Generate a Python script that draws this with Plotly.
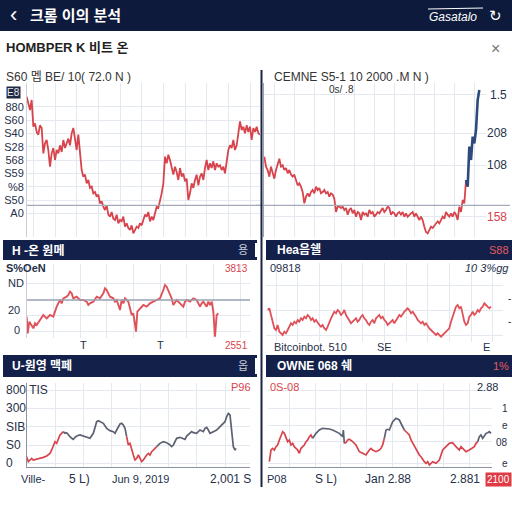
import plotly.graph_objects as go

W = H = 512
NAVY = "#12204a"
RED = "#d8444c"
BLUE = "#2d4a7c"
GRAYLINE = "#5c6272"
GRID = "#e4e8ef"
TXT = "#26304a"
FONT = "Liberation Sans, Noto Sans CJK KR, sans-serif"

# ---------------- data ----------------
# Panel 1 (top-left), one value per step
p1_values = [
    895, 885, 875, 890, 850, 855, 842, 838, 852, 848,
    810, 825, 830, 815, 790, 810, 818, 800, 815, 810,
    822, 812, 830, 818, 825, 832, 822, 840, 848, 830,
    815, 838, 805, 785, 775, 778, 765, 770, 758, 760,
    750, 752, 745, 748, 735, 738, 730, 725, 732, 718,
    715, 722, 712, 710, 718, 705, 710, 708, 715, 700,
    705, 698, 695, 702, 690, 695, 700, 698, 705, 702,
    710, 718, 715, 722, 708, 715, 710, 720, 730, 728,
    738, 750, 765, 805, 795, 808, 800, 790, 778, 790,
    782, 770, 788, 775, 780, 768, 772, 740, 750, 765,
    758, 770, 778, 762, 775, 780, 770, 788, 800, 785,
    795, 788, 798, 785, 795, 790, 792, 785, 790, 780,
    795, 815, 822, 818, 830, 815, 822, 840, 858, 845,
    850, 840, 852, 842, 850, 830, 848, 842, 850, 840,
    838,
]
p1_low_index = 64
p1_low_value = 680
p1_ref_level = 732
p1_tickvals = [880, 860, 840, 820, 800, 780, 760, 740, 720]
p1_ticktext = ["880", "S60", "S40", "S28", "568", "S59", "%8", "S50", "A0"]

# Panel 2 (top-right)
p2_values = [
    155, 140, 135, 125, 140, 130, 122, 135, 145, 152,
    140, 142, 135, 138, 130, 135, 128, 125, 128, 120,
    112, 115, 110, 102, 85, 95, 100, 95, 102, 105,
    100, 110, 105, 108, 100, 102, 105, 100, 102, 95,
    100, 98, 92, 72, 80, 80, 78, 80, 75, 78,
    68, 75, 78, 70, 75, 65, 72, 70, 60, 72,
    68, 70, 65, 75, 70, 72, 65, 68, 72, 70,
    75, 78, 72, 75, 80, 78, 68, 72, 70, 65,
    70, 72, 68, 72, 65, 70, 65, 68, 70, 72,
    65, 70, 65, 60, 65, 60, 50, 42, 40, 45,
    50, 48, 52, 55, 58, 55, 60, 65, 62, 72,
    68, 65, 70, 65, 72, 68, 60, 80, 72, 90,
    85, 120, 110, 170, 150, 185, 175, 195, 240, 255,
]
p2_split = 121  # red before, blue after
p2_ref_level = 82
p2_labels = [(248, "1.5", TXT), (190, "208", TXT), (142, "108", TXT), (65, "158", RED)]

# Panel 3 (middle-left)
p3_t = [80, 83, 88, 95, 100, 105, 110, 120, 130, 140, 150, 160, 165, 170, 180,
        185, 190, 200, 205, 210, 215, 220, 230, 240, 250, 260, 265, 270, 280,
        290, 300, 310, 315, 320, 325, 330, 340, 345, 350, 355, 360, 365, 370,
        375, 385, 390, 395, 400, 405, 408, 412, 420, 430, 440, 450, 460, 470,
        480, 490, 495, 500, 505, 510, 515, 520, 525, 530, 540, 550, 555, 560,
        570, 580, 590, 600, 605, 610, 620, 625, 630, 635, 640, 643, 645, 650, 655]
p3_values = [55, 5, 40, 30, 20, 35, 30, 45, 60, 50, 60, 55, 70, 85, 105,
             95, 110, 115, 120, 130, 125, 110, 115, 105, 105, 100, 90, 95, 100,
             115, 110, 125, 140, 135, 125, 115, 110, 100, 105, 90, 75, 105, 95,
             110, 100, 80, 60, 65, 35, 10, 70, 80, 90, 85, 95, 100, 105,
             110, 135, 150, 145, 135, 120, 110, 90, 100, 105, 95, 85, 100, 105,
             100, 110, 105, 85, 95, 100, 85, 100, 90, 100, 70, 20, -5, 60, 65]
p3_ref_level = 105

# Panel 4 (middle-right)
p4_values = [
    95, 100, 80, 60, 40, 35, 50, 30, 25, 20,
    30, 25, 35, 45, 55, 50, 60, 55, 65, 60,
    70, 65, 75, 70, 80, 75, 65, 70, 60, 65,
    55, 50, 45, 50, 40, 35, 45, 60, 70, 80,
    90, 85, 95, 90, 80, 85, 95, 80, 70, 65,
    55, 60, 65, 70, 60, 65, 75, 80, 70, 65,
    55, 50, 60, 65, 55, 70, 75, 80, 70, 75,
    65, 60, 50, 55, 60, 65, 55, 65, 70, 80,
    75, 85, 90, 95, 100, 95, 85, 90, 80, 75,
    65, 60, 55, 60, 50, 55, 45, 40, 35, 30,
    25, 20, 25, 20, 15, 20, 25, 30, 35, 40,
    60, 75, 90, 105, 110, 100, 105, 80, 60, 50,
    55, 75, 80, 90, 80, 85, 95, 90, 100, 105,
    115, 110, 105, 100, 105,
]

# Panel 5 (bottom-left)
p5_t = [80, 85, 90, 95, 100, 110, 120, 130, 140, 150, 155, 160, 165, 170, 175,
        180, 185, 190, 195, 200, 205, 210, 215, 220, 225, 230, 240, 250, 260,
        270, 280, 285, 290, 295, 300, 310, 320, 325, 330, 340, 345, 350, 355,
        360, 365, 370, 375, 380, 385, 390, 395, 400, 405, 410, 415, 420, 425,
        430, 435, 440, 445, 450, 455, 460, 465, 470, 475, 480, 490, 500, 510,
        515, 520, 525, 530, 540, 550, 555, 560, 570, 575, 580, 590, 600, 610,
        615, 620, 625, 630, 640, 650, 655, 660, 665, 670, 675, 680, 685, 690,
        695, 700, 705, 708]
p5_values = [30, 15, 20, 25, 20, 22, 25, 28, 32, 40, 50, 60, 75, 70, 85,
             95, 100, 105, 100, 102, 95, 90, 85, 82, 88, 92, 95, 92, 88,
             85, 100, 120, 135, 138, 135, 130, 115, 110, 108, 105, 100, 110, 120,
             128, 130, 125, 115, 90, 65, 70, 50, 35, 20, 25, 35, 25, 15,
             20, 30, 35, 40, 35, 45, 50, 55, 60, 65, 70, 75, 72, 65,
             60, 65, 75, 85, 88, 85, 82, 92, 100, 105, 102, 100, 110, 105,
             115, 118, 110, 100, 105, 110, 115, 120, 125, 130, 135, 150, 160, 155,
             110, 60, 50, 55]
p5_segments = [(80, 190, "red"), (190, 380, "gray"), (380, 470, "red"), (470, 708, "gray")]
p5_ylabels = [(230, "800 TIS"), (175, "300"), (120, "SIB"), (65, "S0"), (10, "0")]

# Panel 6 (bottom-right)
p6_t = [40, 42, 45, 50, 55, 60, 65, 70, 75, 80, 85, 90, 95, 100, 105, 110, 115,
        120, 125, 130, 135, 140, 145, 150, 155, 160, 165, 170, 175, 180, 185,
        190, 200, 210, 220, 230, 240, 250, 260, 262, 265, 270, 275, 280, 290,
        295, 300, 305, 310, 320, 330, 340, 345, 350, 360, 370, 375, 380, 385,
        390, 395, 400, 410, 420, 430, 440, 445, 450, 455, 460, 465, 470, 475,
        480, 485, 490, 495, 500, 505, 510, 515, 520, 525, 530, 540, 545, 550,
        555, 560, 570, 580, 590, 595, 600, 605, 610, 615, 620, 625, 630, 640,
        650, 655, 660, 665, 670, 675, 680, 685, 690, 695, 700, 705]
p6_values = [25, 50, 60, 65, 60, 70, 75, 90, 105, 115, 110, 95, 85, 90, 75, 80, 70,
             65, 60, 50, 65, 70, 75, 85, 90, 100, 105, 95, 105, 110, 115,
             120, 125, 125, 123, 120, 115, 110, 100, 120, 80, 82, 90, 92, 85,
             80, 75, 65, 55, 50, 45, 60, 65, 60, 55, 60, 65, 75, 95,
             120, 122, 120, 145, 155, 150, 130, 120, 115, 110, 105, 90, 80, 70,
             60, 50, 45, 40, 30, 25, 20, 25, 15, 20, 25, 20, 25, 30,
             45, 60, 70, 80, 82, 75, 70, 65, 60, 70, 65, 60, 55, 60,
             65, 70, 80, 85, 100, 105, 95, 102, 110, 112, 115, 110]
p6_segments = [(40, 170, "red"), (170, 265, "gray"), (265, 385, "red"),
               (385, 445, "gray"), (445, 665, "red"), (665, 705, "gray")]

SEG_COLORS = {"red": RED, "gray": GRAYLINE}

# ---------------- helpers ----------------
def xd(px0, px1):
    return [px0 / W, px1 / W]


def yd(py_top, py_bot):
    return [1 - py_bot / H, 1 - py_top / H]


def txt(s, px, py, size=11, color=TXT, anchor="left", bold=False, **kw):
    if bold:
        s = "<b>" + s + "</b>"
    return dict(text=s, x=px / W, y=1 - py / H, xref="paper", yref="paper",
                xanchor=anchor, yanchor="middle", showarrow=False,
                font=dict(size=size, color=color, family=FONT), **kw)


def rect(px0, py0, px1, py1, color):
    return dict(type="rect", xref="paper", yref="paper", x0=px0 / W, x1=px1 / W,
                y0=1 - py1 / H, y1=1 - py0 / H, fillcolor=color, line=dict(width=0),
                layer="above")


def pline(px0, py0, px1, py1, color, width=1):
    return dict(type="line", xref="paper", yref="paper", x0=px0 / W, x1=px1 / W,
                y0=1 - py0 / H, y1=1 - py1 / H, line=dict(color=color, width=width))


def axis(domain, rng, **kw):
    d = dict(domain=domain, range=rng, showgrid=True, gridcolor=GRID, gridwidth=1,
             zeroline=False, showticklabels=False, ticks="", showline=False,
             fixedrange=True)
    d.update(kw)
    return d


def line_trace(x, y, xa, ya, color, width=1.6):
    return go.Scatter(x=x, y=y, xaxis=xa, yaxis=ya, mode="lines",
                      line=dict(color=color, width=width), hoverinfo="skip",
                      showlegend=False)


fig = go.Figure()

# Panel 1
p1_x = list(range(len(p1_values)))
fig.add_trace(line_trace(p1_x, p1_values, "x", "y", RED, 1.8))
fig.add_trace(go.Scatter(x=[p1_low_index], y=[p1_low_value], xaxis="x", yaxis="y",
                         mode="markers", cliponaxis=False,
                         marker=dict(size=13, color="white", line=dict(color="#1b2444", width=1.5)),
                         hoverinfo="skip", showlegend=False))

# Panel 2
p2_x = list(range(len(p2_values)))
fig.add_trace(line_trace(p2_x[:p2_split + 1], p2_values[:p2_split + 1], "x2", "y2", RED, 1.8))
fig.add_trace(line_trace(p2_x[p2_split:], p2_values[p2_split:], "x2", "y2", BLUE, 2.6))

# Panel 3
fig.add_trace(line_trace(p3_t, p3_values, "x3", "y3", "#e0525a", 1.9))

# Panel 4
p4_x = list(range(len(p4_values)))
fig.add_trace(line_trace(p4_x, p4_values, "x4", "y4", "#e0525a", 1.8))


def add_segments(t, v, segs, xa, ya):
    for a, b, c in segs:
        xs = [tt for tt in t if a <= tt <= b]
        ys = [vv for tt, vv in zip(t, v) if a <= tt <= b]
        fig.add_trace(line_trace(xs, ys, xa, ya, SEG_COLORS[c], 1.7))


add_segments(p5_t, p5_values, p5_segments, "x5", "y5")
add_segments(p6_t, p6_values, p6_segments, "x6", "y6")

# ---------------- layout ----------------
layout = dict(
    width=W, height=H, margin=dict(l=0, r=0, t=0, b=0),
    paper_bgcolor="white", plot_bgcolor="white", showlegend=False,
    font=dict(family=FONT, color=TXT),
)
layout["xaxis"] = axis(xd(27, 260), [0.2, 140], anchor="y", tick0=4, dtick=13)
layout["yaxis"] = axis(yd(83, 237), [684.5, 915.5], anchor="x", tickvals=p1_tickvals,
                       ticktext=p1_ticktext, showticklabels=True,
                       tickfont=dict(size=11, color=TXT, family=FONT),
                       showline=True, linecolor="#c9ced8", linewidth=1)
layout["xaxis2"] = axis(xd(264, 486), [-0.2, 133], anchor="y2", tick0=6, dtick=12)
layout["yaxis2"] = axis(yd(83, 237), [34.5, 265.5], anchor="x2",
                        tickvals=[v for v, _, _ in p2_labels],
                        showline=True, linecolor="#9aa2b1", linewidth=1)
layout["xaxis3"] = axis(xd(27, 250), [81, 750], anchor="y3", tick0=0, dtick=80)
layout["yaxis3"] = axis(yd(264, 338), [-9, 213], anchor="x3", tickvals=[10, 60, 155],
                        showline=True, linecolor="#c9ced8", linewidth=1)
layout["xaxis4"] = axis(xd(266, 503), [-1, 141.2], anchor="y4", tick0=5, dtick=13)
layout["yaxis4"] = axis(yd(263, 342), [-1, 236], anchor="x4", tickvals=[20, 95, 170])
layout["xaxis5"] = axis(xd(27, 250), [81, 750], anchor="y5", tick0=165, dtick=85,
                        showline=True, linecolor="#8c93a2", linewidth=1.2)
layout["yaxis5"] = axis(yd(383, 467), [-1, 251], anchor="x5",
                        tickvals=[v for v, _ in p5_ylabels],
                        showline=True, linecolor="#8c93a2", linewidth=1.2)
layout["xaxis6"] = axis(xd(268, 492), [36, 708], anchor="y6", tick0=100, dtick=77,
                        showline=True, linecolor="#8c93a2", linewidth=1.2)
layout["yaxis6"] = axis(yd(383, 467), [9, 261], anchor="x6", tickvals=[20, 85, 135, 185, 240])

shapes = []
annots = []

# header
shapes.append(rect(0, 0, 512, 31, "#0e1a3c"))
annots.append(txt("‹", 8, 14, size=22, color="white"))
annots.append(txt("크롬 이의 분석", 28, 15, size=15, color="white", bold=True))
annots.append(txt("<i>Gasatalo</i>", 427, 17, size=12, color="white"))
shapes.append(pline(428, 9, 483, 8, "white", 1))
annots.append(txt("↻", 487, 15, size=15, color="white"))
# subtitle
annots.append(txt("HOMBPER K 비트 온", 4, 47, size=13, color="#222", bold=True))
annots.append(txt("×", 495, 48, size=16, color="#777", anchor="center"))

# panel 1 labels
annots.append(txt("S60 멥 BE/ 10( 72.0 N )", 4, 77, size=12, color="#333"))
annots.append(txt("E8", 6, 92, size=10, color="#e8ebf2", bgcolor="#1f2a44", borderpad=0))
shapes.append(dict(type="line", xref="x", yref="y", x0=0.2, x1=140,
                   y0=p1_ref_level, y1=p1_ref_level, line=dict(color="#a3abb9", width=1.2)))

# panel 2 labels
annots.append(txt("CEMNE S5-1 10 2000 .M N )", 272, 77, size=12, color="#333"))
annots.append(txt("0s/ .8", 327, 89, size=10, color="#333"))
for v, s, c in p2_labels:
    annots.append(dict(text=s, x=1.0, xref="paper", y=v, yref="y2", xanchor="right",
                       yanchor="middle", showarrow=False,
                       font=dict(size=12, color=c, family=FONT), xshift=-3))
shapes.append(dict(type="line", xref="paper", yref="y2", x0=256 / W, x1=510 / W,
                   y0=p2_ref_level, y1=p2_ref_level, line=dict(color="#a3abb9", width=1.2)))

# vertical divider
shapes.append(pline(261.5, 70, 261.5, 487, "#1b2444", 2))

# navy bars
for x0, y0, x1, y1 in [(3, 240, 257, 260), (266, 240, 512, 260),
                       (3, 355, 257, 377), (266, 355, 512, 377)]:
    shapes.append(rect(x0, y0, x1, y1, NAVY))
shapes.append(rect(255, 243, 259, 257, "white"))
shapes.append(rect(255, 358, 259, 374, "white"))
annots.append(txt("H -온 원메", 10, 250, size=12, color="white", bold=True))
annots.append(txt("용", 250, 250, size=11, color="#c9ced9", anchor="right"))
annots.append(txt("Hea음쉘", 275, 250, size=12, color="white", bold=True))
annots.append(txt("S88", 511, 250, size=11, color="#e55a62", anchor="right"))
annots.append(txt("U-원영 맥페", 10, 366, size=12, color="white", bold=True))
annots.append(txt("옵", 250, 366, size=11, color="#c9ced9", anchor="right"))
annots.append(txt("OWNE 068 쉐", 275, 366, size=12, color="white", bold=True))
annots.append(txt("1%", 511, 366, size=11, color="#e55a62", anchor="right"))

# panel 3 labels
shapes.append(dict(type="line", xref="paper", yref="y3", x0=27 / W, x1=250 / W,
                   y0=p3_ref_level, y1=p3_ref_level, line=dict(color="#9aa2b1", width=1.3)))
annots.append(txt("S%OeN", 4, 268, size=11, color=TXT, bold=True))
annots.append(txt("ND", 6, 283, size=11, color=TXT))
annots.append(txt("20", 6, 310, size=11, color=TXT))
annots.append(txt("0", 12, 330, size=11, color=TXT))
annots.append(txt("3813", 250, 268, size=10, color=RED, anchor="right"))
annots.append(txt("2551", 250, 345, size=10, color=RED, anchor="right"))
annots.append(txt("T", 83, 345, size=11, color=TXT, anchor="center"))
annots.append(txt("T", 160, 345, size=11, color=TXT, anchor="center"))

# panel 4 labels
annots.append(txt("09818", 268, 268, size=11, color=TXT))
annots.append(txt("<i>10 3%gg</i>", 511, 268, size=11, color=TXT, anchor="right"))
annots.append(txt("-", 506, 298, size=10, color=TXT))
annots.append(txt("-", 506, 321, size=10, color=TXT))
annots.append(txt("Bitcoinbot. 510", 272, 347, size=11, color=TXT))
annots.append(txt("SE", 384, 347, size=11, color=TXT, anchor="center"))
annots.append(txt("E", 486, 347, size=11, color=TXT, anchor="center"))

# panel 5 labels
annots.append(txt("P96", 253, 387, size=11, color=RED, anchor="right"))
for v, s in p5_ylabels:
    annots.append(dict(text=s, x=4 / W, xref="paper", y=v, yref="y5", xanchor="left",
                       yanchor="middle", showarrow=False,
                       font=dict(size=12, color=TXT, family=FONT)))
annots.append(txt("Ville-", 33, 479, size=11, color=TXT, anchor="center"))
annots.append(txt("5 L)", 79, 479, size=12, color=TXT, anchor="center"))
annots.append(txt("Jun 9, 2019", 141, 479, size=11, color=TXT, anchor="center"))
annots.append(txt("2,001 S", 230, 479, size=12, color=TXT, anchor="center"))

# panel 6 labels
annots.append(txt("0S-08", 268, 387, size=11, color=RED))
annots.append(txt("2.88", 500, 387, size=11, color=TXT, anchor="right"))
for py, s in [(408, "1"), (425, "e"), (442, "08"), (463, "e")]:
    annots.append(txt(s, 510, py, size=10, color=TXT, anchor="right"))
annots.append(txt("P08", 277, 479, size=11, color=TXT, anchor="center"))
annots.append(txt("S L)", 326, 479, size=12, color=TXT, anchor="center"))
annots.append(txt("Jan 2.88", 388, 479, size=12, color=TXT, anchor="center"))
annots.append(txt("2.881", 465, 479, size=12, color=TXT, anchor="center"))
annots.append(txt("2100", 498, 479, size=10, color="white", anchor="center",
                  bgcolor="#e03a45", borderpad=1))

layout["shapes"] = shapes
layout["annotations"] = annots
fig.update_layout(**layout)

fig.write_html("out.html", include_plotlyjs=True,
               config={"displayModeBar": False},
               post_script="document.body.style.margin='0';")
